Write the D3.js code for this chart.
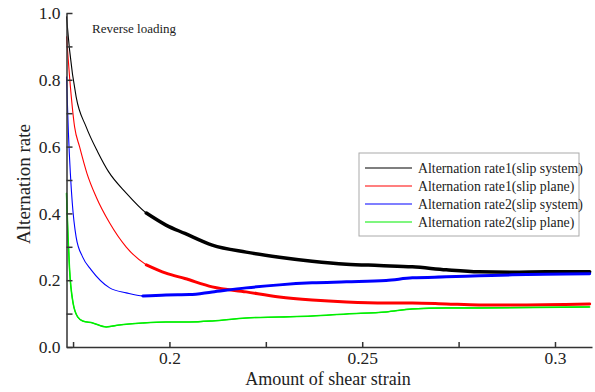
<!DOCTYPE html>
<html>
<head>
<meta charset="utf-8">
<script src="https://cdn.jsdelivr.net/npm/d3@7"></script>
<style>
  body { margin: 0; background: #fff; }
  svg { display: block; }
  .axis path, .axis line { stroke: #333; stroke-width: 1.5; }
</style>
</head>
<body>
<svg id="chart" width="595" height="392"></svg>
<script>
// Data (shear strain, alternation rate)
const seriesNames = [
  "Alternation rate1(slip system)",
  "Alternation rate1(slip plane)",
  "Alternation rate2(slip system)",
  "Alternation rate2(slip plane)"
];

const rate1SystemX = [0.1733, 0.1741, 0.1758, 0.1784, 0.1814, 0.1842, 0.1888, 0.1940, 0.1991, 0.2040, 0.2111, 0.2199, 0.2285, 0.2370, 0.2459, 0.2544, 0.2630, 0.2718, 0.2803, 0.2889, 0.2977, 0.3090];
const rate1SystemY = [0.99, 0.889, 0.749, 0.659, 0.584, 0.525, 0.461, 0.401, 0.365, 0.340, 0.305, 0.284, 0.269, 0.257, 0.248, 0.244, 0.240, 0.231, 0.225, 0.224, 0.225, 0.225];

const rate1PlaneX = [0.1733, 0.1741, 0.1754, 0.1767, 0.1786, 0.1810, 0.1845, 0.1888, 0.1940, 0.1991, 0.2040, 0.2111, 0.2199, 0.2285, 0.2370, 0.2459, 0.2562, 0.2630, 0.2718, 0.2803, 0.2889, 0.3090];
const rate1PlaneY = [0.93, 0.808, 0.659, 0.599, 0.520, 0.449, 0.371, 0.299, 0.246, 0.221, 0.205, 0.180, 0.165, 0.150, 0.141, 0.135, 0.132, 0.132, 0.129, 0.126, 0.126, 0.129];

const rate2SystemX = [0.1733, 0.1738, 0.1743, 0.1748, 0.1758, 0.1775, 0.1797, 0.1845, 0.1888, 0.1931, 0.1991, 0.2052, 0.2111, 0.2199, 0.2285, 0.2370, 0.2459, 0.2562, 0.2630, 0.2718, 0.2803, 0.2889, 0.3090];
const rate2SystemY = [0.81, 0.64, 0.52, 0.431, 0.329, 0.269, 0.231, 0.177, 0.162, 0.153, 0.156, 0.157, 0.165, 0.177, 0.186, 0.192, 0.195, 0.199, 0.207, 0.210, 0.213, 0.216, 0.219];

const rate2PlaneX = [0.1733, 0.1737, 0.1741, 0.1750, 0.1762, 0.1775, 0.1801, 0.1836, 0.1870, 0.1931, 0.1991, 0.2052, 0.2111, 0.2199, 0.2285, 0.2370, 0.2459, 0.2562, 0.2630, 0.2718, 0.2803, 0.3090];
const rate2PlaneY = [0.46, 0.329, 0.231, 0.132, 0.090, 0.078, 0.072, 0.060, 0.066, 0.072, 0.075, 0.075, 0.078, 0.087, 0.090, 0.093, 0.099, 0.105, 0.114, 0.117, 0.117, 0.120];

// strain where the recorded signal turns noisy (drawn as a wider band)
const noisyFrom = [0.1931, 0.1905, 0.1931, null];

const xMajorTicks = [0.2, 0.25, 0.3];
const xMinorTicks = [0.175, 0.225, 0.275];
const yMajorTicks = [0.0, 0.2, 0.4, 0.6, 0.8, 1.0];
const yMinorTicks = [0.1, 0.3, 0.5, 0.7, 0.9];

const colors = ["#000000", "#ff0000", "#0000ff", "#00ee00"];
const bandWidths = [3.5, 3, 3, 1.5];
const serif = "'Liberation Serif', 'Times New Roman', 'DejaVu Serif', serif";

const svg = d3.select("#chart");

const x = d3.scaleLinear().domain([0.1733, 0.3096]).range([66.5, 592]);
const y = d3.scaleLinear().domain([0, 1]).range([347, 13]);

// Build series from the arrays
const xs = [rate1SystemX, rate1PlaneX, rate2SystemX, rate2PlaneX];
const ys = [rate1SystemY, rate1PlaneY, rate2SystemY, rate2PlaneY];
const series = seriesNames.map((name, i) => ({
  name: name,
  color: colors[i],
  noisyFrom: noisyFrom[i],
  band: bandWidths[i],
  points: xs[i].map((v, j) => ({ x: v, y: ys[i][j] }))
}));

const line = d3.line()
  .x(d => x(d.x))
  .y(d => y(d.y))
  .curve(d3.curveMonotoneX);

// Curves
const curves = svg.append("g").attr("class", "curves");
series.forEach(s => {
  curves.append("path")
    .attr("d", line(s.points))
    .attr("fill", "none")
    .attr("stroke", s.color)
    .attr("stroke-width", 1.1);
  const tail = s.noisyFrom === null ? s.points : s.points.filter(p => p.x >= s.noisyFrom);
  curves.append("path")
    .attr("d", line(tail))
    .attr("fill", "none")
    .attr("stroke", s.color)
    .attr("stroke-width", s.band)
    .attr("stroke-linejoin", "round")
    .attr("stroke-linecap", "round");
});

// Axes (ticks point inward)
const fmt = d => String(+d.toFixed(3));
const fmtY = d3.format(".1f");

svg.append("g")
  .attr("class", "axis")
  .attr("transform", "translate(0,347)")
  .call(d3.axisBottom(x).tickValues(xMajorTicks).tickSizeInner(-5).tickSizeOuter(0).tickPadding(5).tickFormat(fmt));

svg.append("g")
  .attr("class", "axis")
  .attr("transform", "translate(0,347)")
  .call(d3.axisBottom(x).tickValues(xMinorTicks).tickSizeInner(-5).tickSizeOuter(0).tickFormat(""))
  .call(g => g.select(".domain").remove());

svg.append("g")
  .attr("class", "axis")
  .attr("transform", "translate(66.5,0)")
  .call(d3.axisLeft(y).tickValues(yMajorTicks).tickSizeInner(-6).tickSizeOuter(0).tickPadding(6).tickFormat(fmtY));

svg.append("g")
  .attr("class", "axis")
  .attr("transform", "translate(66.5,0)")
  .call(d3.axisLeft(y).tickValues(yMinorTicks).tickSizeInner(-6).tickSizeOuter(0).tickFormat(""))
  .call(g => g.select(".domain").remove());

svg.selectAll(".axis text")
  .style("font-family", serif)
  .style("font-size", "17.5px")
  .style("fill", "#222");

// Axis titles
svg.append("text")
  .attr("x", 328)
  .attr("y", 385)
  .attr("text-anchor", "middle")
  .style("font-family", serif)
  .style("font-size", "18px")
  .style("fill", "#222")
  .text("Amount of shear strain");

svg.append("text")
  .attr("transform", "translate(30,184) rotate(-90)")
  .attr("text-anchor", "middle")
  .style("font-family", serif)
  .style("font-size", "19px")
  .style("fill", "#222")
  .text("Alternation rate");

svg.append("text")
  .attr("x", 92)
  .attr("y", 33)
  .style("font-family", serif)
  .style("font-size", "13px")
  .style("fill", "#222")
  .text("Reverse loading");

// Legend
const legend = svg.append("g").attr("transform", "translate(359,153)");
legend.append("rect")
  .attr("width", 220)
  .attr("height", 83)
  .attr("fill", "#fff")
  .attr("stroke", "#aaa")
  .attr("stroke-width", 1);

series.forEach((s, i) => {
  const row = legend.append("g").attr("transform", `translate(0,${15 + i * 18})`);
  row.append("line")
    .attr("x1", 6).attr("x2", 53)
    .attr("stroke", s.color)
    .attr("stroke-width", 1.2);
  row.append("text")
    .attr("x", 59)
    .attr("dy", "0.35em")
    .style("font-family", serif)
    .style("font-size", "13.8px")
    .style("fill", "#222")
    .text(s.name);
});
</script>
</body>
</html>
